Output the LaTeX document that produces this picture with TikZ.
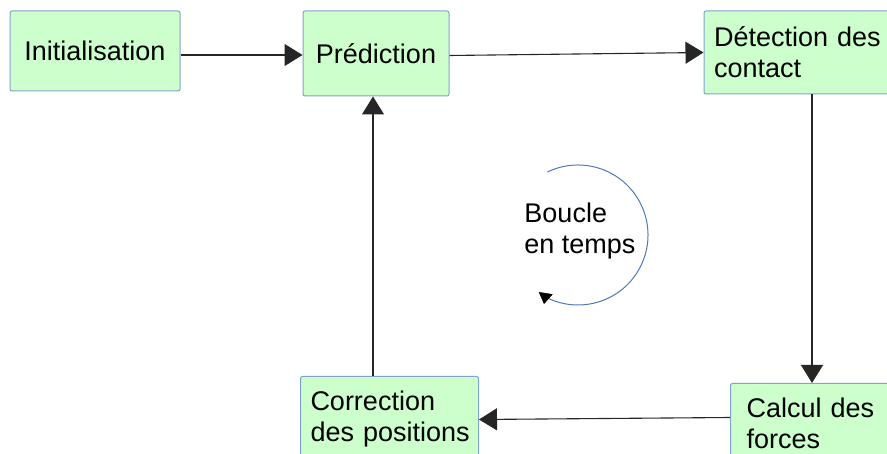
\documentclass[tikz,border=0pt]{standalone}
\usepackage{fontspec}
\setmainfont{Liberation Sans}
\usetikzlibrary{positioning,arrows.meta}
\definecolor{boxfill}{HTML}{CCFFCC}
\definecolor{boxline}{HTML}{7FA3CC}
\definecolor{loopline}{HTML}{4F79B5}

\begin{document}
\begin{tikzpicture}[x=1pt,y=-1pt,font=\fontsize{27}{31}\selectfont,
	>={Triangle[length=18pt,width=22pt]}]

	\useasboundingbox (0,0) rectangle (887,454);

	\begin{scope}[every node/.style={draw=boxline,fill=boxfill,rectangle,rounded corners=2pt,line width=1pt,inner ysep=0pt}]
		\node (init) at (95,51) [minimum width=170pt,minimum height=80pt] {Initialisation};
		\node (pred) at (init.east) [right=122pt,yshift=-2.5pt,minimum width=146pt,minimum height=85pt] {Prédiction};
		\node (detect) at (pred.east) [right=254pt,yshift=1pt,minimum height=83pt,text width=180pt,inner xsep=10pt,align=left] {Détection des\\contact};
		\node (calcul) at (730,383) [anchor=north west,minimum height=80pt,text width=180pt,inner xsep=16pt,align=left] {Calcul des\\forces};
		\node (correc) at (300,376) [anchor=north west,minimum height=86pt,text width=170pt,inner xsep=4pt,align=left] {\hspace{6pt}Correction\\\hspace{6pt}des positions};
	\end{scope}

	\node (boucle) at (580,231) [align=left] {Boucle\\en temps};
	\coordinate (centre) at (578,235);
	\coordinate (fleche) at (544,304);

	\begin{scope}[line width=1.1pt,black!85]
		\draw[->] ([yshift=-4pt]init.east) -- ([yshift=-1.5pt]pred.west);
		\draw[->] ([yshift=-2pt]pred.east) -- (detect.west);
		\draw[->] ([xshift=8pt]detect.south) -- ([xshift=8pt]detect.south |- calcul.north);
		\draw[->] ([yshift=6pt]calcul.west) -- (correc.east);
		\draw[->] ([xshift=-3pt]pred.south |- correc.north) -- ([xshift=-3pt]pred.south);
	\end{scope}

	\draw[loopline,line width=1pt] ([shift={(116:70pt)}]centre) arc[start angle=116,end angle=-118,radius=70pt] coordinate (fin);
	\draw[-{Triangle[length=11pt,width=14pt]}] (fin) -- (fleche);

\end{tikzpicture}
\end{document}
